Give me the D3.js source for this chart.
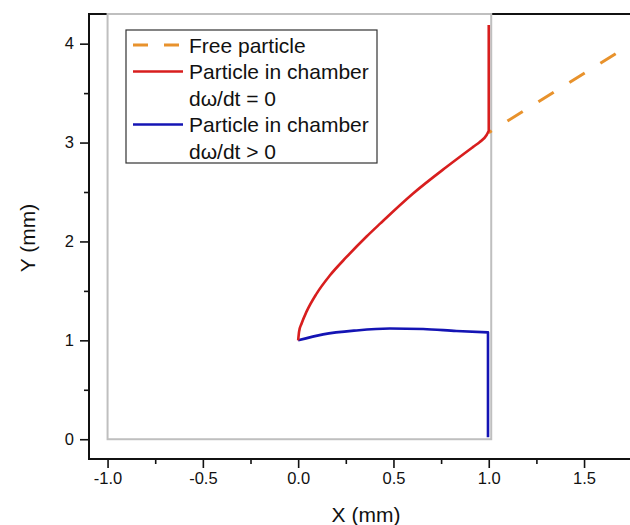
<!DOCTYPE html>
<html>
<head>
<meta charset="utf-8">
<script src="https://cdn.jsdelivr.net/npm/d3@7"></script>
<style>
  html, body { margin: 0; padding: 0; background: #fff; }
  svg { display: block; font-family: "Liberation Sans", Arial, sans-serif; }
</style>
</head>
<body>
<svg id="chart" width="630" height="525"></svg>
<script>
// Trajectory of the particle inside the chamber, dω/dt = 0 (mm)
const redX = [0, 0.005, 0.018, 0.044, 0.096, 0.166, 0.254, 0.359, 0.43, 0.603, 0.778, 0.918, 0.953, 0.988, 1.0, 1.0];
const redY = [1.0, 1.09, 1.17, 1.29, 1.47, 1.655, 1.843, 2.05, 2.18, 2.485, 2.753, 2.956, 3.006, 3.074, 3.12, 4.19];
// Trajectory with dω/dt > 0
const blueX = [0, 0.131, 0.306, 0.481, 0.656, 0.83, 0.996, 0.996];
const blueY = [1.0, 1.06, 1.10, 1.12, 1.115, 1.095, 1.08, 0.02];
// Free particle leaving the chamber
const freeX = [1.0, 1.75];
const freeY = [3.1, 4.0];
// Chamber outline
const chamberX = [-1.0, 1.013];
const chamberY = [0, 4.3];
// Axis ticks
const xMajor = [-1.0, -0.5, 0.0, 0.5, 1.0, 1.5];
const xMinor = [-0.75, -0.25, 0.25, 0.75, 1.25];
const yMajor = [0, 1, 2, 3, 4];
const yMinor = [0.5, 1.5, 2.5, 3.5];
// Legend entries
const legendItems = [
  { color: "#e8922c", dash: "15,16", lines: ["Free particle"] },
  { color: "#d81e1e", dash: null, lines: ["Particle in chamber", "dω/dt = 0"] },
  { color: "#1414b4", dash: null, lines: ["Particle in chamber", "dω/dt > 0"] }
];

const svg = d3.select("#chart");
const plotLeft = 89, plotRight = 631.7, plotTop = 14, plotBottom = 459;

const x = d3.scaleLinear().domain([-1.1, 1.75]).range([plotLeft - 0.5, plotRight]);
const y = d3.scaleLinear().domain([-0.2, 4.3]).range([plotBottom, plotTop]);

// Top frame line
svg.append("line").attr("x1", plotLeft).attr("x2", 630).attr("y1", plotTop).attr("y2", plotTop)
  .attr("stroke", "#111").attr("stroke-width", 2);

// Chamber
svg.append("rect")
  .attr("x", x(chamberX[0])).attr("y", y(chamberY[1]))
  .attr("width", x(chamberX[1]) - x(chamberX[0]))
  .attr("height", y(chamberY[0]) - y(chamberY[1]))
  .attr("fill", "none").attr("stroke", "#bfbfbf").attr("stroke-width", 2);

// X axis (hyphen for negative labels)
const fmtX = d => d.toFixed(1);
const xAxis = svg.append("g").attr("transform", `translate(0,${plotBottom})`)
  .call(d3.axisBottom(x).tickValues(xMajor).tickFormat(fmtX).tickSize(9).tickSizeOuter(0));
svg.append("g").attr("transform", `translate(0,${plotBottom})`)
  .call(d3.axisBottom(x).tickValues(xMinor).tickFormat("").tickSize(5).tickSizeOuter(0));

// Y axis
const yAxis = svg.append("g").attr("transform", `translate(${plotLeft},0)`)
  .call(d3.axisLeft(y).tickValues(yMajor).tickFormat(d => String(d)).tickSize(9).tickSizeOuter(0));
svg.append("g").attr("transform", `translate(${plotLeft},0)`)
  .call(d3.axisLeft(y).tickValues(yMinor).tickFormat("").tickSize(5).tickSizeOuter(0));

svg.selectAll(".domain").remove();
svg.selectAll(".tick line").attr("stroke", "#111").attr("stroke-width", 1.6);
svg.selectAll(".tick text").attr("fill", "#111").style("font-size", "16.5px")
  .style("font-family", "'Liberation Sans', Arial, sans-serif");
xAxis.selectAll(".tick text").attr("y", 13);
yAxis.selectAll(".tick text").attr("x", -15);

// Axis lines
svg.append("line").attr("x1", plotLeft - 1).attr("x2", 630).attr("y1", plotBottom).attr("y2", plotBottom)
  .attr("stroke", "#111").attr("stroke-width", 2);
svg.append("line").attr("x1", plotLeft).attr("x2", plotLeft).attr("y1", plotTop - 1).attr("y2", plotBottom + 1)
  .attr("stroke", "#111").attr("stroke-width", 2);

// Axis titles
svg.append("text").attr("x", 366).attr("y", 522).attr("text-anchor", "middle")
  .style("font-size", "21px").attr("fill", "#111").text("X (mm)");
svg.append("text").attr("transform", "translate(35,238) rotate(-90)").attr("text-anchor", "middle")
  .style("font-size", "21px").attr("fill", "#111").text("Y (mm)");

// Curves: smooth inside the chamber, straight along the wall
const smooth = d3.line().x(d => x(d[0])).y(d => y(d[1])).curve(d3.curveMonotoneX);
function trajectory(xs, ys) {
  const pts = xs.map((v, i) => [v, ys[i]]);
  const last = pts[pts.length - 1];
  return smooth(pts.slice(0, -1)) + `L${x(last[0])},${y(last[1])}`;
}

svg.append("path").datum(freeX.map((v, i) => [v, freeY[i]]))
  .attr("d", d3.line().x(d => x(d[0])).y(d => y(d[1])))
  .attr("fill", "none").attr("stroke", "#e8922c")
  .attr("stroke-width", 3).attr("stroke-dasharray", "18,18.5").attr("stroke-dashoffset", 14.5);

svg.append("path").attr("d", trajectory(blueX, blueY))
  .attr("fill", "none")
  .attr("stroke", "#1414b4").attr("stroke-width", 2.6).attr("stroke-linejoin", "round");

svg.append("path").attr("d", trajectory(redX, redY))
  .attr("fill", "none")
  .attr("stroke", "#d81e1e").attr("stroke-width", 2.6).attr("stroke-linejoin", "round");

// Legend
const legend = svg.append("g");
legend.append("rect").attr("x", 126).attr("y", 30).attr("width", 251).attr("height", 133)
  .attr("fill", "#fff").attr("stroke", "#333").attr("stroke-width", 1.2);
const rowH = 26.5;
let row = 0;
legendItems.forEach(item => {
  const cy = 45 + row * rowH;
  legend.append("line").attr("x1", 133).attr("x2", 183).attr("y1", cy).attr("y2", cy)
    .attr("stroke", item.color).attr("stroke-width", item.dash ? 3 : 2.6)
    .attr("stroke-dasharray", item.dash);
  item.lines.forEach((t, k) => {
    legend.append("text").attr("x", 189).attr("y", cy + k * rowH).attr("dy", "0.36em")
      .style("font-size", "21px").attr("fill", "#111").text(t);
  });
  row += item.lines.length;
});
</script>
</body>
</html>
